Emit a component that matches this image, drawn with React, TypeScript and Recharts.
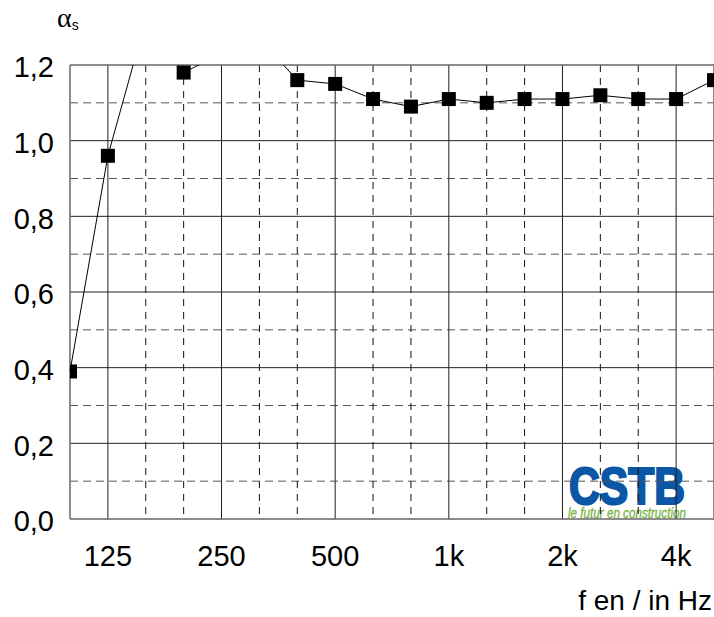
import React from 'react';
import * as R from 'recharts';
import { LineChart, Line, XAxis, YAxis, CartesianGrid } from 'recharts';

// Third-octave band centre frequencies (Hz) and measured alpha_s
const bands = ['100', '125', '160', '200', '250', '315', '400', '500', '630', '800', '1k', '1.25k', '1.6k', '2k', '2.5k', '3.15k', '4k', '5k'];
const alphaS = [0.39, 0.96, 1.32, 1.18, 1.23, 1.27, 1.16, 1.15, 1.11, 1.09, 1.11, 1.1, 1.11, 1.11, 1.12, 1.11, 1.11, 1.16];

// Octave bands shown as labelled ticks (indices into bands)
const xTicks = [1, 4, 7, 10, 13, 16];
const xMinor = [2, 3, 5, 6, 8, 9, 11, 12, 14, 15];
const yTicks = [0, 0.2, 0.4, 0.6, 0.8, 1.0, 1.2];
const yMinor = [0.1, 0.3, 0.5, 0.7, 0.9, 1.1];

const data = bands.map((b, i) => ({ idx: i, band: b, alpha: alphaS[i] }));

const FONT = '"Liberation Sans", Arial, Helvetica, sans-serif';
const HALF = 7;

const usePlot: () => any = (R as any).usePlotArea || (() => null);

const SquareDot = (props: any) => {
  const { cx, cy } = props;
  const area = usePlot();
  if (cx == null || cy == null) return null;
  let x0 = cx - HALF;
  let x1 = cx + HALF;
  let y0 = cy - HALF;
  let y1 = cy + HALF;
  if (area) {
    x0 = Math.max(x0, area.x);
    x1 = Math.min(x1, area.x + area.width);
    y0 = Math.max(y0, area.y);
    y1 = Math.min(y1, area.y + area.height);
  }
  if (x1 <= x0 || y1 <= y0) return null;
  return <rect x={x0} y={y0} width={x1 - x0} height={y1 - y0} fill="#000" />;
};

const XTitle = () => (
  <text x={712} y={610} textAnchor="end" fontFamily={FONT} fontSize={28} fill="#000">
    f en / in Hz
  </text>
);

const YTitle = () => (
  <text x={57} y={27} fill="#000">
    <tspan fontFamily='"Liberation Serif", "Times New Roman", serif' fontSize={28}>α</tspan>
    <tspan fontFamily={FONT} fontSize={14} dy={3}>s</tspan>
  </text>
);

export default function App() {
  return (
    <div style={{ position: 'absolute', left: 0, top: 0, width: 714, height: 617, background: '#fff' }}>
      <svg width={714} height={617} style={{ position: 'absolute', left: 0, top: 0 }}>
        <text fontFamily={FONT}>
          <tspan x={569} y={504} fontWeight="bold" fontSize={51} fill="#0b57a6" stroke="#0b57a6" strokeWidth={2.2} textLength={116} lengthAdjust="spacingAndGlyphs">
            CSTB
          </tspan>
          <tspan x={568} y={518} fontStyle="italic" fontSize={14} fill="#78b443" stroke="#78b443" strokeWidth={0.3} textLength={118} lengthAdjust="spacingAndGlyphs">
            le futur en construction
          </tspan>
        </text>
      </svg>
      <div style={{ position: 'absolute', left: 0, top: 0 }}>
        <LineChart width={714} height={617} data={data} margin={{ top: 65, right: 0, bottom: 0, left: 0 }}>
          <CartesianGrid stroke="#555" strokeDasharray="8 5" horizontalValues={yMinor} vertical={false} fill="none" />
          <CartesianGrid stroke="#111" strokeDasharray="7 6" verticalValues={xMinor} horizontal={false} fill="none" />
          <CartesianGrid stroke="#222" fill="none" />
          <CartesianGrid stroke="#888" horizontalValues={[0, 1.2]} verticalValues={[0, 17]} fill="none" />
          <XAxis
            dataKey="idx"
            type="number"
            domain={[0, 17]}
            ticks={xTicks}
            interval={0}
            tickFormatter={(v: number) => bands[v]}
            axisLine={false}
            tickLine={false}
            tickSize={0}
            tickMargin={26}
            height={98}
            tick={{ fontFamily: FONT, fontSize: 29, fill: '#000' }}
            label={<XTitle />}
          />
          <YAxis
            type="number"
            domain={[0, 1.2]}
            ticks={yTicks}
            allowDataOverflow
            interval={0}
            tickFormatter={(v: number) => v.toFixed(1).replace('.', ',')}
            axisLine={false}
            tickLine={false}
            tickSize={0}
            tickMargin={16}
            width={70}
            tick={{ fontFamily: FONT, fontSize: 29, fill: '#000', dy: 2 }}
            label={<YTitle />}
          />
          <Line
            type="linear"
            dataKey="alpha"
            stroke="#000"
            strokeWidth={1}
            dot={<SquareDot />}
            activeDot={false}
            isAnimationActive={false}
          />
        </LineChart>
      </div>
    </div>
  );
}
